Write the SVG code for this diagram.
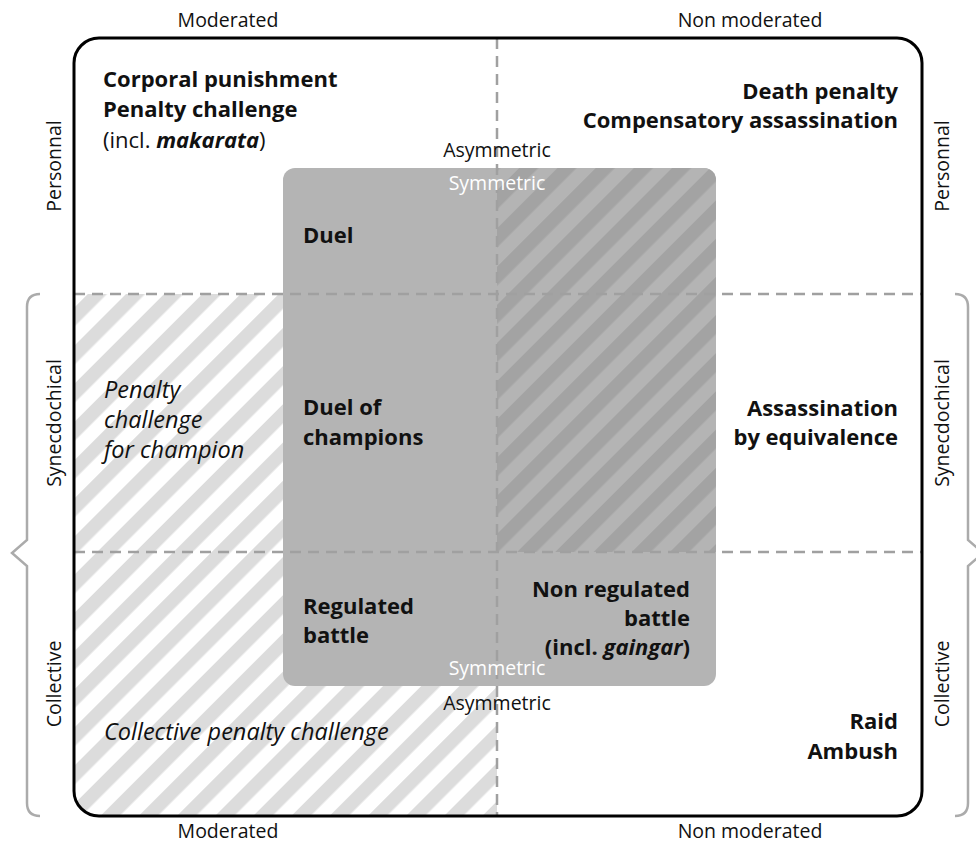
<svg xmlns="http://www.w3.org/2000/svg" width="976" height="845" viewBox="0 0 976 845">
<defs>
<style>
.t{font-family:"Open Sans","Noto Sans","Liberation Sans",sans-serif;fill:#111}
.lbl{font-size:19.5px}
.b{font-size:22px;font-weight:bold}
.it{font-size:23.5px;font-style:italic}
.w{fill:#fff}
.r{text-anchor:end}
.m{text-anchor:middle}
.dash{stroke:#a0a0a0;stroke-width:2.5;stroke-dasharray:11 7;fill:none}
.brace{stroke:#ababab;stroke-width:2.5;fill:none}
</style>
<pattern id="hl" patternUnits="userSpaceOnUse" width="27" height="27" patternTransform="rotate(45)"><rect width="27" height="27" fill="#fff"/><rect width="13.5" height="27" fill="#dcdcdc"/></pattern>
<pattern id="hd" patternUnits="userSpaceOnUse" width="27" height="27" patternTransform="rotate(45)"><rect width="27" height="27" fill="#b4b4b4"/><rect width="13.5" height="27" fill="#a3a3a3"/></pattern>
<clipPath id="outerClip"><rect x="74" y="38" width="848" height="778" rx="25"/></clipPath>
<clipPath id="grayClip"><rect x="283" y="168" width="433" height="518" rx="12"/></clipPath>
</defs>
<rect width="976" height="845" fill="#fff"/>
<g id="frame">
<rect x="74" y="294" width="423" height="522" fill="url(#hl)" clip-path="url(#outerClip)"/>
</g>
<g id="symmetric-box">
<rect x="283" y="168" width="433" height="518" rx="12" fill="#b4b4b4"/>
<rect x="497" y="168" width="219" height="384" fill="url(#hd)" clip-path="url(#grayClip)"/>
</g>
<g id="connectors">
<line class="dash" x1="497" y1="38" x2="497" y2="816"/>
<line class="dash" x1="74" y1="294" x2="922" y2="294"/>
<line class="dash" x1="74" y1="552" x2="922" y2="552"/>
<path class="brace" d="M40 294 Q27 294 27 307 L27 540 L12 553 L27 566 L27 803 Q27 816 40 816"/>
<path class="brace" d="M955 294 Q968 294 968 307 L968 540 L983 553 L968 566 L968 803 Q968 816 955 816"/>
</g>
<rect x="74" y="38" width="848" height="778" rx="25" fill="none" stroke="#000" stroke-width="3"/>
<g id="axis-labels">
<text class="t lbl m" x="228" y="27">Moderated</text>
<text class="t lbl m" x="750" y="27">Non moderated</text>
<text class="t lbl m" x="228" y="838">Moderated</text>
<text class="t lbl m" x="750" y="838">Non moderated</text>
<text class="t lbl m" transform="translate(61 166) rotate(-90)">Personnal</text>
<text class="t lbl m" transform="translate(61 423) rotate(-90)">Synecdochical</text>
<text class="t lbl m" transform="translate(61 684) rotate(-90)">Collective</text>
<text class="t lbl m" transform="translate(949 166) rotate(-90)">Personnal</text>
<text class="t lbl m" transform="translate(949 423) rotate(-90)">Synecdochical</text>
<text class="t lbl m" transform="translate(949 684) rotate(-90)">Collective</text>
<text class="t lbl m" x="497" y="157">Asymmetric</text>
<text class="t lbl m w" x="497" y="190">Symmetric</text>
<text class="t lbl m w" x="497" y="675">Symmetric</text>
<text class="t lbl m" x="497" y="710">Asymmetric</text>
</g>
<g id="node-corporal">
<text class="t b" x="103" y="87">Corporal punishment</text>
<text class="t b" x="103" y="117">Penalty challenge</text>
<text class="t" x="103" y="148" font-size="22">(incl. <tspan font-weight="bold" font-style="italic">makarata</tspan>)</text>
</g>
<g id="node-death">
<text class="t b r" x="898" y="99">Death penalty</text>
<text class="t b r" x="898" y="128">Compensatory assassination</text>
</g>
<g id="node-duel">
<text class="t b" x="303" y="243">Duel</text>
</g>
<g id="node-penalty-champion">
<text class="t it" x="104" y="398">Penalty</text>
<text class="t it" x="104" y="428">challenge</text>
<text class="t it" x="104" y="458">for champion</text>
</g>
<g id="node-duel-champions">
<text class="t b" x="303" y="415">Duel of</text>
<text class="t b" x="303" y="445">champions</text>
</g>
<g id="node-assassination">
<text class="t b r" x="898" y="416">Assassination</text>
<text class="t b r" x="898" y="445">by equivalence</text>
</g>
<g id="node-regulated">
<text class="t b" x="303" y="614">Regulated</text>
<text class="t b" x="303" y="643">battle</text>
</g>
<g id="node-non-regulated">
<text class="t b r" x="690" y="597">Non regulated</text>
<text class="t b r" x="690" y="626">battle</text>
<text class="t b r" x="690" y="655">(incl. <tspan font-style="italic">gaingar</tspan>)</text>
</g>
<g id="node-collective-penalty">
<text class="t it" x="104" y="740">Collective penalty challenge</text>
</g>
<g id="node-raid">
<text class="t b r" x="898" y="729">Raid</text>
<text class="t b r" x="898" y="759">Ambush</text>
</g>
</svg>
